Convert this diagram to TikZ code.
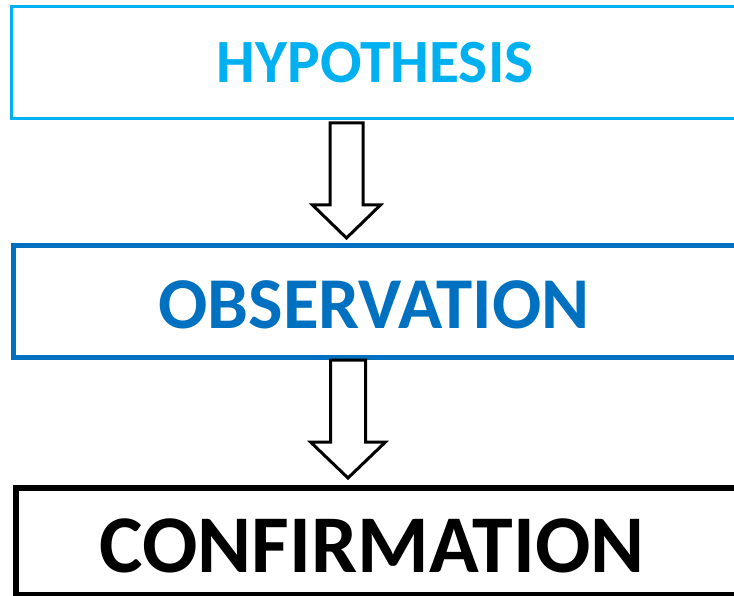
\documentclass[tikz,border=0pt]{standalone}
\usepackage{fontspec}
\setmainfont{Carlito}
\usetikzlibrary{calc}
\definecolor{hypo}{HTML}{00B0F0}
\definecolor{obs}{HTML}{0070C0}
\begin{document}
\begin{tikzpicture}[x=1pt,y=-1pt,
  stagebox/.style={draw, rectangle, inner sep=0pt, minimum width=740pt, anchor=north west},
  stagetext/.style={inner sep=0pt, anchor=base, font=\bfseries},
  blockarrow/.style={draw=black, line width=3pt, fill=white, line join=miter}]
\useasboundingbox (0,0) rectangle (734,596);
\clip (0,0) rectangle (734,596);

% the three stages
\node[stagebox, draw=hypo, line width=3.2pt, minimum height=112pt] (hyp) at (10,5) {};
\node[stagebox, draw=obs, line width=5pt, minimum height=112pt] (obs) at (11,243) {};
\node[stagebox, draw=black, line width=5.5pt, minimum height=107pt] (conf) at (13,485) {};

\node[stagetext, text=hypo, font=\bfseries\fontsize{61.5}{62}\selectfont] (hyptext) at (375,82.7) {HYPOTHESIS};
\node[stagetext, text=obs, font=\bfseries\fontsize{73}{74}\selectfont] (obstext) at (374,328) {OBSERVATION};
\node[stagetext, text=black, font=\bfseries\fontsize{82}{82}\selectfont] (conftext) at (372,572) {CONFIRMATION};

% hollow block arrows between the stages
\coordinate (a1) at (346.5,123);
\draw[blockarrow] ($(a1)+(-16.5,0)$) -- ($(a1)+(-16.5,82)$) -- ($(a1)+(-34,82)$)
  -- ($(a1)+(0,115)$) -- ($(a1)+(34,82)$) -- ($(a1)+(16.5,82)$) -- ($(a1)+(16.5,0)$) -- cycle;
\coordinate (a2) at (348,360);
\draw[blockarrow] ($(a2)+(-17.5,0)$) -- ($(a2)+(-17.5,82)$) -- ($(a2)+(-37.5,82)$)
  -- ($(a2)+(0,118)$) -- ($(a2)+(37.5,82)$) -- ($(a2)+(17.5,82)$) -- ($(a2)+(17.5,0)$) -- cycle;
\end{tikzpicture}
\end{document}
